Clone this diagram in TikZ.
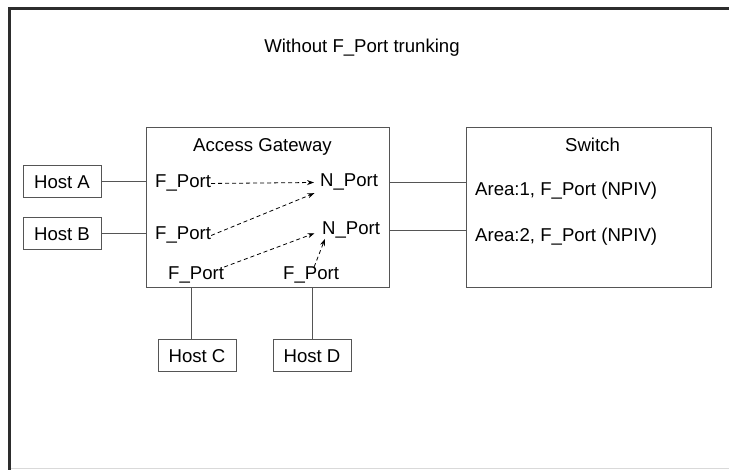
\documentclass[tikz,border=0pt]{standalone}
\usepackage{fontspec}
\setmainfont{Liberation Sans}
\usetikzlibrary{arrows.meta,positioning}
\definecolor{boxgray}{RGB}{85,85,85}
\definecolor{framegray}{RGB}{45,45,45}

\begin{document}
\begin{tikzpicture}[x=1pt,y=-1pt,
    every node/.style={font=\fontsize{18.6}{22}\selectfont,inner sep=0pt},
    hostbox/.style={rectangle,draw=boxgray,line width=1pt,minimum width=78pt,minimum height=32pt},
    bigbox/.style={rectangle,draw=boxgray,line width=1pt,minimum height=160pt},
    link/.style={draw=boxgray,line width=1pt},
    flow/.style={-{Stealth[length=7pt,width=5pt]},dash pattern=on 4pt off 3pt,line width=0.8pt}]
  \useasboundingbox (0,0) rectangle (729,470);
  \draw[framegray,line width=2.5pt] (9.5,470) -- (9.5,8.5) -- (729,8.5);
  \draw[black!15,line width=1pt] (11,468.5) -- (729,468.5);
  \node (title) at (362,48) {Without F\_Port trunking};

  \node[bigbox,minimum width=243pt] (gw) at (267.5,208) {};
  \node[bigbox,minimum width=245pt] (sw) at (588.5,208) {};
  \node[anchor=base] (gwlabel) at (262.5,152) {Access Gateway};
  \node[anchor=base] (swlabel) at (592.5,152) {Switch};

  \node[anchor=base west] (fpa) at (155,188) {F\_Port};
  \node[anchor=base west] (fpb) at (155,240) {F\_Port};
  \node[anchor=base west] (fpc) at (168,280) {F\_Port};
  \node[anchor=base west] (fpd) at (283,280) {F\_Port};
  \node[anchor=base west] (npa) at (320,187) {N\_Port};
  \node[anchor=base west] (npb) at (322,235) {N\_Port};
  \node[anchor=base west] (areaa) at (475,196) {Area:1, F\_Port (NPIV)};
  \node[anchor=base west] (areab) at (475,242) {Area:2, F\_Port (NPIV)};

  \node[hostbox] (hosta) at (62,182) {Host A};
  \node[hostbox] (hostb) at (62,234) {Host B};
  \node[hostbox] (hostc) at (197,356) {Host C};
  \node[hostbox] (hostd) at (312,356) {Host D};

  \draw[link] (hosta.east) -- (hosta.east -| gw.west);
  \draw[link] (hostb.east) -- (hostb.east -| gw.west);
  \draw[link] ([xshift=-6pt]hostc.north) -- ([xshift=-6pt]hostc.north |- gw.south);
  \draw[link] (hostd.north) -- (hostd.north |- gw.south);
  \draw[link] (npa.east -| gw.east) -- (npa.east -| sw.west);
  \draw[link] (npb.east -| gw.east) -- (npb.east -| sw.west);

  \draw[flow,shorten >=6pt] (fpa.east) -- (npa.west);
  \draw[flow,shorten >=6pt] (fpb.east) -- (npa.south west);
  \draw[flow,shorten >=8pt] (fpc.north east) -- (npb.west);
  \draw[flow] ([xshift=3pt]fpd.north) -- ([xshift=3pt]npb.south west);
\end{tikzpicture}
\end{document}
